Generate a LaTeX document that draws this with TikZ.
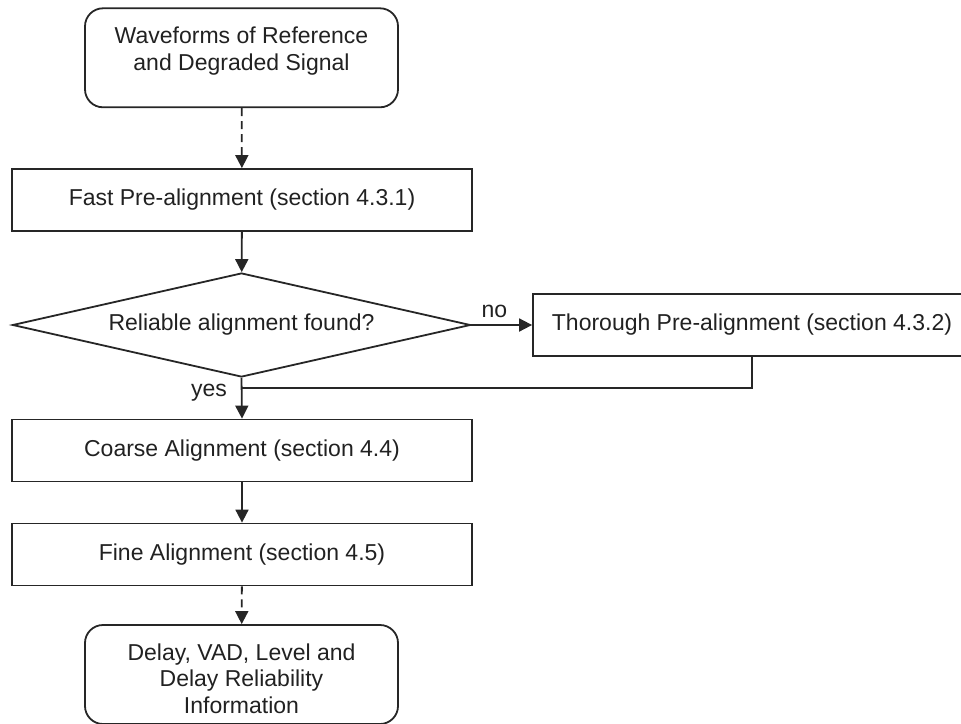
\documentclass[tikz,border=0pt]{standalone}
\usepackage{fontspec}
\setmainfont{Liberation Sans}
\usetikzlibrary{shapes.geometric,arrows.meta}
\begin{document}
\begin{tikzpicture}[x=1pt,y=-1pt,
  every node/.style={font=\fontsize{23}{26.7}\selectfont, text=black!87},
  line/.style={draw=black!85, line width=1.8pt},
  flow/.style={line, -{Triangle[length=13pt,width=13pt]}},
  dashflow/.style={flow, dash pattern=on 8pt off 5pt},
  stepbox/.style={line, rectangle, minimum width=460pt, minimum height=62pt, inner sep=0pt},
  endbox/.style={line, rectangle, rounded corners=18pt, minimum width=313pt, minimum height=99pt, inner sep=0pt},
  caption/.style={align=center, inner sep=0pt, anchor=north},
  decision/.style={line, diamond, aspect=4.4, inner sep=0pt, minimum width=458pt, minimum height=104pt},
  tag/.style={inner sep=0pt},
]
\useasboundingbox (0,0) rectangle (961,723);

% input and output terminals
\node[endbox] (src) at (241.5,57.8) {};
\node[caption] (srcText) at (241.5,26.6) {Waveforms of Reference\\and Degraded Signal};

\node[endbox] (out) at (241.5,674.5) {};
\node[caption] (outText) at (241.5,643.2) {Delay, VAD, Level and\\Delay Reliability\\Information};

% processing steps
\node[stepbox] (fast) at (242,200) {Fast Pre-alignment (section 4.3.1)};
\node[decision] (dec) at (241.5,325) {Reliable alignment found?};
\node[line, rectangle, minimum width=438pt, minimum height=62pt, inner sep=0pt] (thor) at (752,325) {Thorough Pre-alignment (section 4.3.2)};
\node[stepbox] (coarse) at (242,450.5) {Coarse Alignment (section 4.4)};
\node[stepbox] (fine) at (242,554.5) {Fine Alignment (section 4.5)};

\coordinate (join) at (241.5,388);

% branch labels
\node[tag, anchor=base west] (noLbl) at (481.5,317) {no};
\node[tag, anchor=base east] (yesLbl) at (227,396.7) {yes};

% connectors
\draw[dashflow] (src) -- (fast);
\draw[flow] (fast) -- (dec);
\draw[flow] (dec.east) -- (thor.west);
\draw[line] (thor.south) |- (join);
\draw[flow] (dec.south) -- (coarse.north);
\draw[flow] (coarse) -- (fine);
\draw[dashflow] (fine) -- (out);
\end{tikzpicture}
\end{document}
